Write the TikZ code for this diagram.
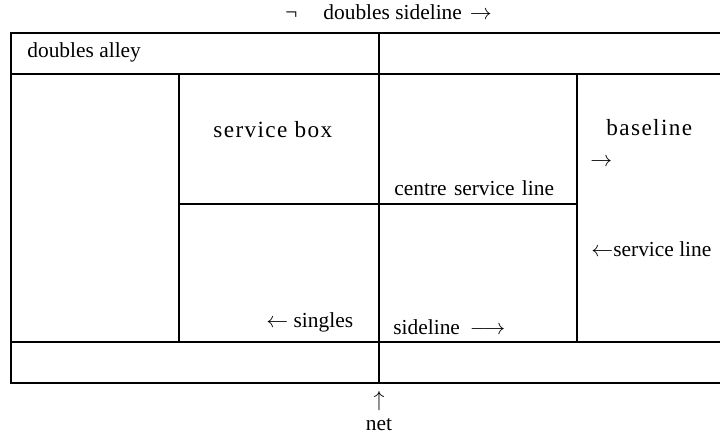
\documentclass[tikz,border=0pt]{standalone}
\usepackage{fontspec}
\setmainfont{Liberation Serif}

\tikzset{
    lbl/.style={inner sep=0pt, anchor=base west, font=\fontsize{10.7}{12}\selectfont},
    biglbl/.style={lbl, font=\fontsize{11.6}{14}\selectfont\addfontfeature{LetterSpace=6}},
    court/.style={line width=1.2pt}
}

\begin{document}
\begin{tikzpicture}[x=0.5pt, y=-0.5pt]

    \useasboundingbox (0,0) rectangle (720,433);
    \clip (0,0) rectangle (720,433);

    % Campo
    \draw[court] (11,33) rectangle (747,383);
    \draw[court] (11,74) -- (747,74);
    \draw[court] (11,342) -- (747,342);

    % Linee di servizio
    \draw[court] (179,74) -- (179,342);
    \draw[court] (577,74) -- (577,342);
    \draw[court] (179,204) -- (577,204);

    % Rete
    \draw[court] (379,33) -- (379,383);

    % Etichette
    \node[lbl] (dside) at (285,20) {¬\hspace{13pt}doubles sideline\hspace{4pt}$\rightarrow$};
    \node[lbl] (alley) at (27,58) {doubles alley};
    \node[biglbl] (sbox) at (213,138) {service box};
    \node[biglbl] (base) at (606,136) {baseline};
    \node[lbl] (basearr) at (590,167) {$\rightarrow$};
    \node[lbl] (centre) at (394,196) {centre\hspace{1pt} service\hspace{1pt} line};
    \node[lbl] (sline) at (591,257) {$\leftarrow$service line};
    \node[lbl] (singles) at (266,328) {$\leftarrow$ singles};
    \node[lbl] (side) at (393,335) {sideline\hspace{5pt}$\longrightarrow$};

    % Rete, etichetta
    \node[lbl, anchor=base] (netarr) at (379,407) {$\uparrow$};
    \node[lbl, anchor=base] (net) at (379,431) {net};

\end{tikzpicture}
\end{document}
